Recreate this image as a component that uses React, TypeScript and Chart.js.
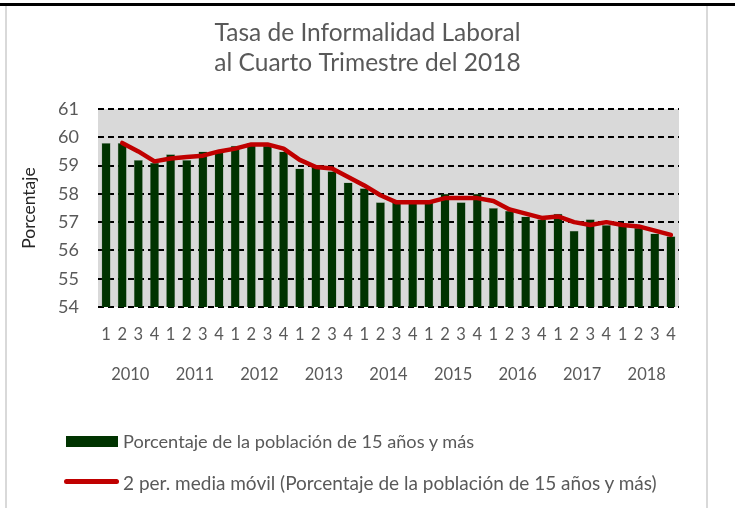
import React, { useEffect, useRef } from 'react';
import { Chart, registerables } from 'chart.js';

Chart.register(...registerables);

const quarters: string[] = [
  '1', '2', '3', '4', '1', '2', '3', '4', '1', '2', '3', '4',
  '1', '2', '3', '4', '1', '2', '3', '4', '1', '2', '3', '4',
  '1', '2', '3', '4', '1', '2', '3', '4', '1', '2', '3', '4',
];
const years: string[] = ['2010', '2011', '2012', '2013', '2014', '2015', '2016', '2017', '2018'];

const porcentaje: number[] = [
  59.8, 59.8, 59.2, 59.1,
  59.4, 59.2, 59.5, 59.5,
  59.7, 59.8, 59.7, 59.5,
  58.9, 59.0, 58.8, 58.4,
  58.2, 57.7, 57.7, 57.7,
  57.7, 58.0, 57.7, 58.0,
  57.5, 57.4, 57.2, 57.1,
  57.3, 56.7, 57.1, 56.9,
  56.9, 56.8, 56.6, 56.5,
];

const mediaMovil: (number | null)[] = [
  null, 59.8, 59.5, 59.15,
  59.25, 59.3, 59.35, 59.5,
  59.6, 59.75, 59.75, 59.6,
  59.2, 58.95, 58.9, 58.6,
  58.3, 57.95, 57.7, 57.7,
  57.7, 57.85, 57.85, 57.85,
  57.75, 57.45, 57.3, 57.15,
  57.2, 57.0, 56.9, 57.0,
  56.9, 56.85, 56.7, 56.55,
];

const yMin = 54;
const yMax = 61;
const yStep = 1;

const titleLines = ['Tasa de Informalidad Laboral', 'al Cuarto Trimestre del 2018'];
const yTitle = 'Porcentaje';
const barLabel = 'Porcentaje de la población de 15 años y más';
const lineLabel = '2 per. media móvil (Porcentaje de la población de 15 años y más)';

const FONT = 'Lato';
const TEXT = '#595959';
const BAR = '#003300';
const LINE = '#c00000';

export default function App() {
  const ref = useRef<HTMLCanvasElement>(null);

  useEffect(() => {
    if (!ref.current) return;
    const plotBg = {
      id: 'plotBg',
      beforeDraw(chart: any) {
        const { ctx, chartArea } = chart;
        ctx.save();
        ctx.fillStyle = '#d9d9d9';
        ctx.fillRect(chartArea.left, chartArea.top, chartArea.right - chartArea.left, chartArea.bottom - chartArea.top);
        ctx.restore();
      },
    };
    const chart = new Chart(ref.current, {
      type: 'bar',
      data: {
        labels: quarters,
        datasets: [
          {
            type: 'line',
            label: lineLabel,
            data: mediaMovil,
            borderColor: LINE,
            backgroundColor: LINE,
            borderWidth: 4.5,
            pointRadius: 0,
            tension: 0,
            borderJoinStyle: 'round',
            borderCapStyle: 'round',
            order: 0,
            xAxisID: 'x',
            yAxisID: 'y',
          } as any,
          {
            type: 'bar',
            label: barLabel,
            data: porcentaje,
            backgroundColor: BAR,
            borderColor: 'rgba(90,120,90,0.6)',
            borderWidth: 0.5,
            barPercentage: 0.56,
            categoryPercentage: 1,
            order: 1,
            xAxisID: 'x',
            yAxisID: 'y',
          } as any,
        ],
      },
      options: {
        responsive: false,
        animation: false,
        devicePixelRatio: 1,
        layout: { padding: { left: 0, right: 0, top: 0, bottom: 113 } },
        plugins: {
          legend: { display: false },
          tooltip: { enabled: false },
          title: {
            display: true,
            text: titleLines,
            color: TEXT,
            font: { family: FONT, size: 24.5, weight: 'normal', lineHeight: 1.225 },
            padding: { top: 18, bottom: 31 },
          },
        },
        scales: {
          x: {
            type: 'category',
            position: 'bottom',
            weight: 1,
            offset: true,
            grid: { display: false, drawTicks: false },
            border: { display: false },
            ticks: { color: TEXT, font: { family: FONT, size: 16.5 }, padding: 18, maxRotation: 0, autoSkip: false },
            afterFit: (s: any) => { s.height = 48; },
          },
          x2: {
            type: 'category',
            labels: years,
            position: 'bottom',
            weight: 2,
            offset: true,
            grid: { display: false, drawTicks: false },
            border: { display: false },
            ticks: { color: TEXT, font: { family: FONT, size: 16.5 }, padding: 10, maxRotation: 0, autoSkip: false },
            afterFit: (s: any) => { s.height = 40; },
          },
          y: {
            min: yMin,
            max: yMax,
            ticks: { stepSize: yStep, color: TEXT, font: { family: FONT, size: 18 }, padding: 19 },
            grid: { color: '#000', lineWidth: 2, drawTicks: false },
            border: { display: false, dash: [6, 4] },
            title: { display: true, text: yTitle, color: '#262626', font: { family: FONT, size: 17.5 }, padding: { top: 19, bottom: 0 } },
            afterFit: (s: any) => { s.width = 98; },
          },
          yR: {
            position: 'right',
            min: yMin,
            max: yMax,
            ticks: { display: false },
            grid: { display: false, drawTicks: false },
            border: { display: false },
            afterFit: (s: any) => { s.width = 56; },
          },
        },
      } as any,
      plugins: [plotBg],
    });
    return () => chart.destroy();
  }, []);

  return (
    <div style={{ position: 'fixed', left: 0, top: 0, width: 735, height: 508, background: '#fff', overflow: 'hidden' }}>
      <canvas ref={ref} width={735} height={508} style={{ position: 'absolute', left: 0, top: 0, width: 735, height: 508 }} />
      <div style={{ position: 'absolute', left: 0, top: 3, width: 735, height: 3, background: '#000' }} />
      <div style={{ position: 'absolute', left: 5, top: 6, width: 2, height: 502, background: '#d9d9d9' }} />
      <div style={{ position: 'absolute', left: 706, top: 6, width: 2, height: 502, background: '#d9d9d9' }} />
      <div style={{ position: 'absolute', left: 66, top: 436, width: 52, height: 11, background: BAR }} />
      <div style={{ position: 'absolute', left: 123, top: 441, transform: 'translateY(-50%)', fontFamily: FONT, fontSize: 18.2, color: TEXT, whiteSpace: 'nowrap', lineHeight: 1 }}>{barLabel}</div>
      <div style={{ position: 'absolute', left: 64, top: 479, width: 55, height: 5, borderRadius: 3, background: LINE }} />
      <div style={{ position: 'absolute', left: 123, top: 481.5, transform: 'translateY(-50%)', fontFamily: FONT, fontSize: 19, color: TEXT, whiteSpace: 'nowrap', lineHeight: 1 }}>{lineLabel}</div>
    </div>
  );
}
